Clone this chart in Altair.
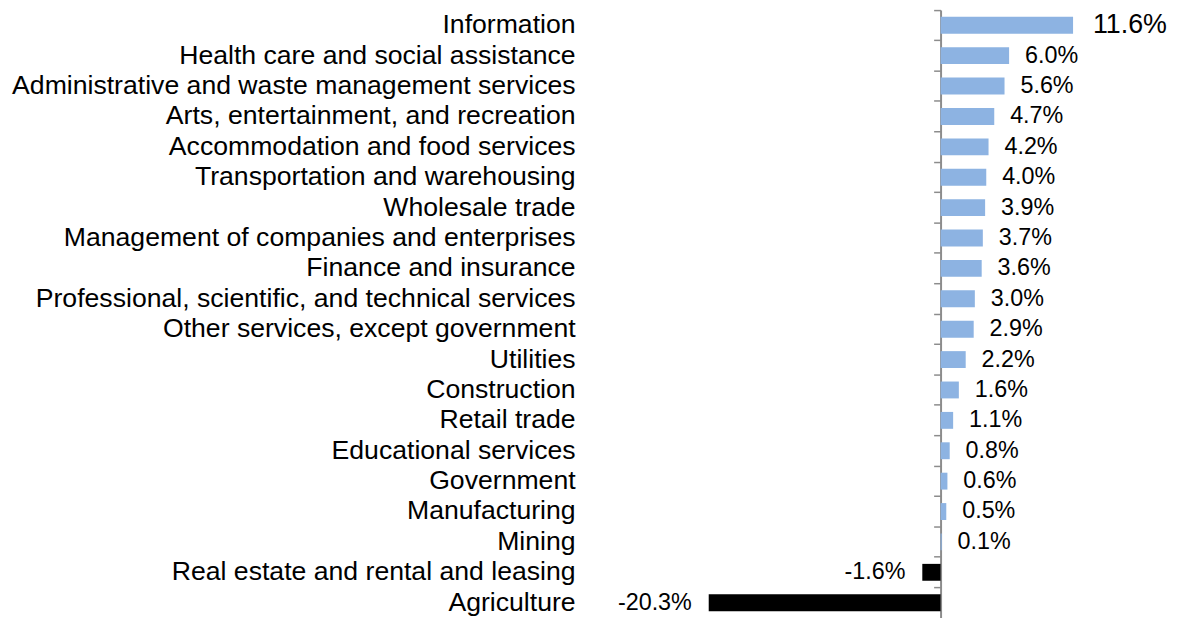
import altair as alt
import pandas as pd

categories = [
    "Information",
    "Health care and social assistance",
    "Administrative and waste management services",
    "Arts, entertainment, and recreation",
    "Accommodation and food services",
    "Transportation and warehousing",
    "Wholesale trade",
    "Management of companies and enterprises",
    "Finance and insurance",
    "Professional, scientific, and technical services",
    "Other services, except government",
    "Utilities",
    "Construction",
    "Retail trade",
    "Educational services",
    "Government",
    "Manufacturing",
    "Mining",
    "Real estate and rental and leasing",
    "Agriculture",
]
values = [11.6, 6.0, 5.6, 4.7, 4.2, 4.0, 3.9, 3.7, 3.6, 3.0, 2.9, 2.2, 1.6, 1.1, 0.8, 0.6, 0.5, 0.1, -1.6, -20.3]

df = pd.DataFrame({"cat": categories, "val": values})
df["label"] = [f"{v:.1f}%" for v in values]
df["sign"] = ["neg" if v < 0 else "pos" for v in values]

FONT = "Liberation Sans"
yscale = alt.Scale(paddingInner=0, paddingOuter=0)
xscale = alt.Scale(domain=[-30, 20], nice=False, zero=False)

base = alt.Chart(df)

bars = base.mark_bar(size=17).encode(
    y=alt.Y("cat:N", sort=categories, scale=yscale,
            axis=alt.Axis(title=None, domain=False, ticks=False, labelPadding=23,
                          labelFontSize=26.8, labelFont=FONT, labelColor="#000000",
                          labelLimit=1000)),
    x=alt.X("val:Q", scale=xscale, axis=None),
    color=alt.Color("sign:N", scale=alt.Scale(domain=["pos", "neg"], range=["#8DB3E2", "#000000"]), legend=None),
)

def value_text(flt, **kw):
    return base.transform_filter(flt).mark_text(
        baseline="middle", font=FONT, color="#000000", **kw
    ).encode(
        y=alt.Y("cat:N", sort=categories, scale=yscale, axis=None),
        x=alt.X("val:Q", scale=xscale, axis=None),
        text="label:N",
    )

big_text = value_text(alt.datum.val > 10, align="left", dx=20, fontSize=27)
pos_text = value_text((alt.datum.val >= 0) & (alt.datum.val <= 10), align="left", dx=16, fontSize=23.5)
neg_text = value_text(alt.datum.val < 0, align="right", dx=-17, fontSize=23.5)

axis_layer = base.mark_point(opacity=0).encode(
    y=alt.Y("cat:N", sort=categories, scale=yscale,
            axis=alt.Axis(orient="left", offset=-345, labels=False, title=None,
                          ticks=True, tickSize=7, bandPosition=0,
                          domainColor="#8c8c8c", tickColor="#8c8c8c",
                          domainWidth=2, tickWidth=1.5, grid=False)),
    x=alt.X("val:Q", scale=xscale, axis=None),
)

chart = alt.layer(bars, big_text, pos_text, neg_text, axis_layer).resolve_axis(y="independent").properties(
    width=575,
    height=612,
    autosize=alt.AutoSizeParams(type="none"),
    padding={"left": 594, "top": 0, "right": 0, "bottom": -2},
).configure_view(stroke=None)

chart.save("out.html", embed_options={"renderer": "svg", "actions": False})
